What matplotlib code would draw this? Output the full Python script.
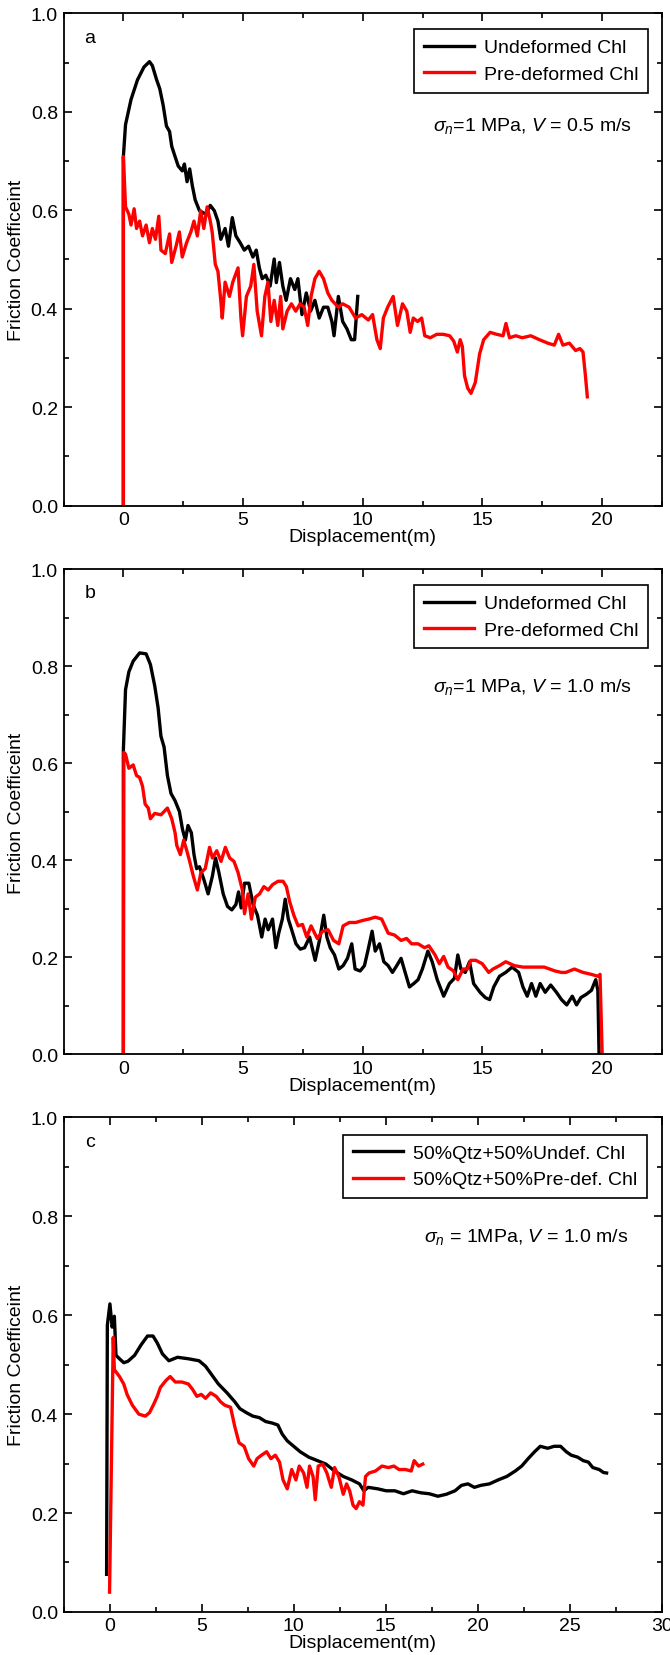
import numpy as np
import matplotlib.pyplot as plt
from matplotlib.ticker import MultipleLocator

plt.rcParams['font.family'] = ['Liberation Sans', 'DejaVu Sans']
plt.rcParams['mathtext.fontset'] = 'custom'
plt.rcParams['mathtext.rm'] = 'Liberation Sans'
plt.rcParams['mathtext.it'] = 'Liberation Sans:italic'

# ---- panel a : sigma_n = 1 MPa, V = 0.5 m/s ----
a_undef_x = [0.0, 0.0, 0.09, 0.32, 0.59, 0.86, 1.09, 1.21, 1.39, 1.52, 1.66, 1.80, 1.93, 2.02, 2.16,
             2.29, 2.46, 2.55, 2.66, 2.77, 2.88, 3.0, 3.18, 3.45, 3.63, 3.80, 3.95, 4.07, 4.25, 4.39,
             4.55, 4.70, 4.88, 5.05, 5.23, 5.41, 5.55, 5.68, 5.80, 5.95, 6.13, 6.30, 6.39, 6.52, 6.66,
             6.80, 6.98, 7.16, 7.29, 7.46, 7.64, 7.82, 8.0, 8.18, 8.36, 8.54, 8.71, 8.80, 8.98, 9.16,
             9.34, 9.52, 9.66, 9.79]
a_undef_y = [0.0, 0.709, 0.774, 0.825, 0.865, 0.891, 0.902, 0.894, 0.865, 0.847, 0.814, 0.771, 0.760,
             0.730, 0.709, 0.690, 0.680, 0.694, 0.658, 0.684, 0.650, 0.621, 0.599, 0.592, 0.610, 0.599,
             0.578, 0.541, 0.563, 0.527, 0.585, 0.548, 0.534, 0.519, 0.527, 0.505, 0.519, 0.483, 0.461,
             0.468, 0.446, 0.501, 0.453, 0.494, 0.446, 0.417, 0.461, 0.439, 0.461, 0.388, 0.432, 0.395,
             0.417, 0.381, 0.403, 0.403, 0.374, 0.345, 0.425, 0.374, 0.359, 0.337, 0.337, 0.425]

a_pre_x = [0.0, 0.0, 0.09, 0.23, 0.32, 0.45, 0.55, 0.68, 0.80, 0.95, 1.09, 1.21, 1.34, 1.48, 1.57,
           1.75, 1.93, 2.02, 2.20, 2.34, 2.46, 2.64, 2.82, 2.95, 3.09, 3.23, 3.36, 3.50, 3.63, 3.71,
           3.84, 3.95, 4.07, 4.13, 4.25, 4.43, 4.57, 4.79, 4.91, 4.98, 5.14, 5.32, 5.45, 5.59, 5.77,
           5.91, 6.04, 6.16, 6.30, 6.45, 6.57, 6.66, 6.84, 7.02, 7.20, 7.38, 7.55, 7.70, 7.84, 8.0,
           8.18, 8.36, 8.54, 8.71, 8.98, 9.16, 9.43, 9.70, 9.96, 10.23, 10.41, 10.59, 10.73, 10.86,
           11.04, 11.27, 11.45, 11.66, 11.84, 11.98, 12.11, 12.29, 12.46, 12.59, 12.82, 13.09, 13.36,
           13.63, 13.80, 13.95, 14.07, 14.16, 14.25, 14.38, 14.52, 14.70, 14.88, 15.05, 15.32, 15.59,
           15.86, 15.98, 16.13, 16.39, 16.66, 17.02, 17.38, 17.73, 18.0, 18.18, 18.36, 18.63, 18.89,
           19.07, 19.20, 19.30, 19.38]
a_pre_y = [0.0, 0.709, 0.607, 0.592, 0.570, 0.603, 0.563, 0.578, 0.548, 0.570, 0.534, 0.563, 0.541,
           0.588, 0.519, 0.512, 0.552, 0.494, 0.527, 0.556, 0.505, 0.534, 0.556, 0.578, 0.548, 0.599,
           0.563, 0.607, 0.578, 0.556, 0.490, 0.476, 0.417, 0.381, 0.454, 0.425, 0.454, 0.483, 0.381,
           0.345, 0.425, 0.446, 0.490, 0.395, 0.345, 0.425, 0.454, 0.374, 0.417, 0.366, 0.425, 0.359,
           0.395, 0.410, 0.395, 0.410, 0.403, 0.366, 0.425, 0.461, 0.476, 0.461, 0.432, 0.417, 0.403,
           0.410, 0.403, 0.381, 0.388, 0.377, 0.388, 0.337, 0.319, 0.381, 0.403, 0.425, 0.366, 0.410,
           0.395, 0.352, 0.381, 0.374, 0.381, 0.345, 0.341, 0.348, 0.348, 0.345, 0.334, 0.312, 0.337,
           0.323, 0.264, 0.239, 0.228, 0.250, 0.308, 0.337, 0.352, 0.348, 0.345, 0.370, 0.341, 0.345,
           0.341, 0.345, 0.337, 0.330, 0.326, 0.348, 0.326, 0.330, 0.315, 0.319, 0.312, 0.264, 0.221]

# ---- panel b : sigma_n = 1 MPa, V = 1.0 m/s ----
b_undef_x = [0.0, 0.0, 0.09, 0.23, 0.41, 0.68, 0.95, 1.13, 1.31, 1.45, 1.57, 1.70, 1.84, 1.99, 2.16,
             2.34, 2.47, 2.59, 2.70, 2.84, 2.95, 3.06, 3.18, 3.36, 3.54, 3.72, 3.85, 3.99, 4.17, 4.35,
             4.53, 4.70, 4.81, 4.92, 5.06, 5.24, 5.42, 5.60, 5.78, 5.92, 6.05, 6.23, 6.37, 6.49, 6.64,
             6.76, 6.89, 7.03, 7.21, 7.39, 7.57, 7.78, 8.01, 8.19, 8.37, 8.50, 8.64, 8.82, 9.0, 9.18,
             9.36, 9.54, 9.68, 9.89, 10.07, 10.21, 10.39, 10.52, 10.70, 10.88, 11.06, 11.24, 11.42,
             11.60, 11.77, 11.95, 12.13, 12.31, 12.49, 12.72, 12.90, 13.11, 13.38, 13.62, 13.83, 13.97,
             14.10, 14.28, 14.46, 14.63, 14.90, 15.12, 15.30, 15.47, 15.71, 15.97, 16.24, 16.51, 16.69,
             16.87, 17.05, 17.23, 17.41, 17.62, 17.85, 18.09, 18.30, 18.52, 18.75, 18.93, 19.11, 19.34,
             19.55, 19.73, 19.82, 19.87]
b_undef_y = [0.0, 0.627, 0.752, 0.789, 0.811, 0.828, 0.826, 0.804, 0.760, 0.715, 0.656, 0.634, 0.575,
             0.538, 0.523, 0.501, 0.464, 0.442, 0.472, 0.457, 0.412, 0.383, 0.387, 0.361, 0.331, 0.368,
             0.405, 0.375, 0.331, 0.305, 0.298, 0.309, 0.335, 0.302, 0.353, 0.353, 0.309, 0.287, 0.242,
             0.279, 0.257, 0.279, 0.220, 0.250, 0.279, 0.320, 0.279, 0.257, 0.228, 0.217, 0.220, 0.242,
             0.194, 0.235, 0.287, 0.242, 0.220, 0.205, 0.176, 0.183, 0.198, 0.228, 0.176, 0.172, 0.183,
             0.213, 0.254, 0.213, 0.228, 0.191, 0.183, 0.169, 0.183, 0.198, 0.169, 0.139, 0.146, 0.154,
             0.176, 0.213, 0.191, 0.154, 0.120, 0.146, 0.157, 0.205, 0.176, 0.169, 0.191, 0.146, 0.128,
             0.117, 0.113, 0.139, 0.161, 0.169, 0.180, 0.169, 0.139, 0.120, 0.146, 0.120, 0.146, 0.128,
             0.143, 0.128, 0.113, 0.102, 0.120, 0.102, 0.117, 0.124, 0.132, 0.154, 0.132, 0.0]

b_pre_x = [0.0, 0.02, 0.09, 0.23, 0.41, 0.55, 0.68, 0.80, 0.91, 1.04, 1.13, 1.31, 1.57, 1.84, 2.02,
           2.16, 2.23, 2.38, 2.52, 2.65, 2.77, 2.92, 3.09, 3.24, 3.42, 3.60, 3.72, 3.90, 4.08, 4.26,
           4.44, 4.62, 4.79, 4.97, 5.06, 5.21, 5.35, 5.51, 5.69, 5.87, 6.05, 6.23, 6.46, 6.67, 6.81,
           6.94, 7.12, 7.30, 7.48, 7.66, 7.84, 8.10, 8.32, 8.55, 8.78, 9.0, 9.18, 9.44, 9.71, 9.98,
           10.25, 10.52, 10.79, 11.06, 11.33, 11.60, 11.83, 12.04, 12.31, 12.58, 12.76, 13.02, 13.20,
           13.38, 13.56, 13.79, 13.97, 14.19, 14.37, 14.51, 14.72, 14.99, 15.26, 15.44, 15.71, 15.97,
           16.33, 16.69, 17.14, 17.58, 18.03, 18.30, 18.48, 18.84, 19.20, 19.55, 19.82, 19.91, 20.0]
b_pre_y = [0.0, 0.623, 0.619, 0.590, 0.597, 0.575, 0.571, 0.553, 0.516, 0.508, 0.486, 0.497, 0.494,
           0.508, 0.486, 0.457, 0.431, 0.412, 0.442, 0.420, 0.398, 0.368, 0.339, 0.375, 0.383, 0.427,
           0.405, 0.420, 0.398, 0.427, 0.405, 0.398, 0.375, 0.339, 0.290, 0.331, 0.279, 0.324, 0.331,
           0.346, 0.339, 0.350, 0.357, 0.357, 0.346, 0.316, 0.287, 0.265, 0.268, 0.242, 0.265, 0.239,
           0.254, 0.257, 0.235, 0.228, 0.265, 0.272, 0.272, 0.276, 0.279, 0.283, 0.279, 0.250, 0.246,
           0.235, 0.239, 0.228, 0.228, 0.220, 0.224, 0.205, 0.187, 0.202, 0.180, 0.172, 0.154, 0.176,
           0.176, 0.194, 0.194, 0.187, 0.169, 0.176, 0.183, 0.191, 0.183, 0.180, 0.180, 0.180, 0.172,
           0.169, 0.169, 0.176, 0.169, 0.165, 0.161, 0.165, 0.0]

# ---- panel c : quartz mixtures, sigma_n = 1 MPa, V = 1.0 m/s ----
c_undef_x = [-0.16, -0.12, 0.02, 0.14, 0.26, 0.35, 0.54, 0.77, 1.0, 1.36, 1.71, 2.06, 2.36, 2.59, 2.87,
             3.22, 3.69, 4.28, 4.86, 5.21, 5.56, 5.91, 6.38, 6.80, 7.08, 7.43, 7.78, 8.13, 8.48, 8.83,
             9.14, 9.37, 9.65, 10.0, 10.35, 10.82, 11.29, 11.75, 12.22, 12.69, 13.15, 13.57, 13.81,
             14.04, 14.56, 15.02, 15.49, 15.96, 16.43, 16.89, 17.36, 17.83, 18.29, 18.76, 19.11, 19.46,
             19.81, 20.16, 20.63, 21.10, 21.57, 22.03, 22.38, 22.73, 23.08, 23.39, 23.79, 24.14, 24.49,
             24.80, 25.07, 25.42, 25.72, 26.0, 26.24, 26.59, 26.82, 26.99]
c_undef_y = [0.076, 0.58, 0.623, 0.576, 0.598, 0.519, 0.512, 0.504, 0.507, 0.519, 0.540, 0.558, 0.558,
             0.544, 0.522, 0.508, 0.515, 0.512, 0.508, 0.497, 0.479, 0.461, 0.443, 0.425, 0.411, 0.403,
             0.396, 0.393, 0.385, 0.382, 0.378, 0.360, 0.346, 0.335, 0.324, 0.313, 0.306, 0.299, 0.285,
             0.274, 0.267, 0.259, 0.245, 0.252, 0.249, 0.245, 0.245, 0.239, 0.245, 0.241, 0.239, 0.234,
             0.238, 0.245, 0.256, 0.259, 0.252, 0.256, 0.259, 0.267, 0.274, 0.285, 0.295, 0.310, 0.324,
             0.335, 0.331, 0.335, 0.335, 0.324, 0.317, 0.313, 0.306, 0.303, 0.292, 0.288, 0.282, 0.281]

c_pre_x = [0.0, 0.1, 0.2, 0.26, 0.54, 0.77, 0.96, 1.24, 1.59, 1.94, 2.17, 2.41, 2.59, 2.76, 3.06, 3.29,
           3.57, 3.93, 4.28, 4.51, 4.74, 4.98, 5.21, 5.49, 5.79, 6.03, 6.26, 6.57, 6.80, 7.03, 7.31,
           7.55, 7.83, 8.01, 8.25, 8.53, 8.76, 9.0, 9.23, 9.42, 9.65, 9.89, 10.12, 10.30, 10.54, 10.72,
           10.86, 11.05, 11.17, 11.33, 11.57, 11.80, 12.04, 12.22, 12.45, 12.69, 12.87, 13.04, 13.22,
           13.39, 13.57, 13.76, 13.90, 14.09, 14.44, 14.79, 15.14, 15.44, 15.72, 16.07, 16.38, 16.54,
           16.78, 17.01]
c_pre_y = [0.04, 0.30, 0.555, 0.490, 0.476, 0.461, 0.439, 0.418, 0.400, 0.396, 0.403, 0.421, 0.436,
           0.454, 0.468, 0.476, 0.465, 0.465, 0.461, 0.450, 0.436, 0.440, 0.432, 0.443, 0.436, 0.425,
           0.418, 0.414, 0.375, 0.342, 0.335, 0.310, 0.295, 0.310, 0.317, 0.324, 0.310, 0.317, 0.303,
           0.267, 0.249, 0.288, 0.267, 0.295, 0.281, 0.252, 0.295, 0.274, 0.227, 0.295, 0.299, 0.281,
           0.252, 0.292, 0.274, 0.238, 0.259, 0.245, 0.216, 0.209, 0.223, 0.216, 0.274, 0.281, 0.285,
           0.295, 0.292, 0.295, 0.288, 0.288, 0.285, 0.306, 0.295, 0.299]

panels = [
    dict(letter='a', xs=(a_undef_x, a_pre_x), ys=(a_undef_y, a_pre_y),
         labels=('Undeformed Chl', 'Pre-deformed Chl'), xmax=22.5,
         note=r'$\sigma_n$=1 MPa, $V$ = 0.5 m/s', rect=[0.0948, 0.6941, 0.8933, 0.2972],
         legx=0.977, legy=0.968, notex=0.783, notey=0.773),
    dict(letter='b', xs=(b_undef_x, b_pre_x), ys=(b_undef_y, b_pre_y),
         labels=('Undeformed Chl', 'Pre-deformed Chl'), xmax=22.5,
         note=r'$\sigma_n$=1 MPa, $V$ = 1.0 m/s', rect=[0.0948, 0.3627, 0.8933, 0.2928],
         legx=0.977, legy=0.968, notex=0.783, notey=0.760),
    dict(letter='c', xs=(c_undef_x, c_pre_x), ys=(c_undef_y, c_pre_y),
         labels=('50%Qtz+50%Undef. Chl', '50%Qtz+50%Pre-def. Chl'), xmax=30,
         note=r'$\sigma_n$ = 1MPa, $V$ = 1.0 m/s', rect=[0.0948, 0.0260, 0.8933, 0.2986],
         legx=0.975, legy=0.965, notex=0.773, notey=0.761),
]

fig = plt.figure(figsize=(6.7, 16.56), dpi=100)

for p in panels:
    ax = fig.add_axes(p['rect'])
    ax.plot(p['xs'][0], p['ys'][0], color='black', lw=2.4, label=p['labels'][0])
    ax.plot(p['xs'][1], p['ys'][1], color='#ff0000', lw=2.4, label=p['labels'][1])
    ax.set_xlim(-2.5, p['xmax'])
    ax.set_ylim(0, 1.0)
    ax.xaxis.set_major_locator(MultipleLocator(5))
    ax.xaxis.set_minor_locator(MultipleLocator(2.5))
    ax.yaxis.set_major_locator(MultipleLocator(0.2))
    ax.yaxis.set_minor_locator(MultipleLocator(0.1))
    ax.yaxis.set_major_formatter(plt.FormatStrFormatter('%.1f'))
    ax.tick_params(which='both', direction='in', top=True, right=True, width=1.2, labelsize=14)
    ax.tick_params(which='major', length=6, pad=4)
    ax.tick_params(which='minor', length=3.5)
    for s in ax.spines.values():
        s.set_linewidth(1.3)
    ax.set_xlabel('Displacement(m)', fontsize=14, labelpad=0)
    ax.set_ylabel('Friction Coefficeint', fontsize=14, labelpad=4)
    leg = ax.legend(loc='upper right', bbox_to_anchor=(p['legx'], p['legy']), fontsize=14,
                    frameon=True, fancybox=False, framealpha=1, handlelength=2.6,
                    handletextpad=0.5, borderpad=0.5, labelspacing=0.45, borderaxespad=0)
    leg.get_frame().set_edgecolor('black')
    leg.get_frame().set_linewidth(1.2)
    ax.text(p['notex'], p['notey'], p['note'], transform=ax.transAxes, fontsize=14,
            ha='center', va='center')
    ax.text(0.044, 0.952, p['letter'], transform=ax.transAxes, fontsize=14,
            ha='center', va='center')

fig.savefig('out.png', dpi=100)
